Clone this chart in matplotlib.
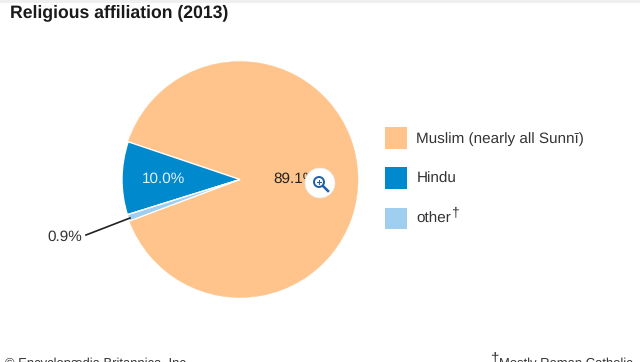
import matplotlib
matplotlib.use("Agg")
import matplotlib.pyplot as plt
from matplotlib.patches import Circle, Patch, Rectangle

plt.rcParams['font.family'] = ['Liberation Sans', 'DejaVu Sans']
plt.rcParams['text.hinting'] = 'no_hinting'

# religious affiliation, share in percent
groups = ["Muslim (nearly all Sunnī)", "Hindu", "other"]
shares = [89.1, 10.0, 0.9]
colors = ["#FEC48C", "#0089CC", "#A0CEEE"]
share_labels = ["89.1%", "10.0%", "0.9%"]

fig = plt.figure(figsize=(6.4, 3.62), dpi=100)
# whole figure as one axes, in pixels of the picture
ax = fig.add_axes([0, 0, 1, 1])

wedges, _ = ax.pie(shares, colors=colors, startangle=200.6, radius=118, center=(240, 182.5),
                   frame=True, wedgeprops={"edgecolor": "white", "linewidth": 1.0})
# muslim slice has no visible white rim against the page
wedges[0].set_edgecolor(colors[0])
wedges[0].set_linewidth(0.3)
for w in wedges[1:]:
    w.set_zorder(3)

ax.set_xlim(0, 640)
ax.set_ylim(0, 362)
ax.set_aspect("auto")
ax.axis("off")

def py(y):
    return 362 - y

# grey strip at the top of the page
ax.add_patch(Rectangle((0, py(3)), 640, 3, color="#EFEFEF", lw=0))

ax.text(10, py(13), "Religious affiliation (2013)", fontsize=12.7, weight="bold",
        color="#1A1A1A", va="center", ha="left")

ax.text(273, py(179), share_labels[0], fontsize=11, color="#222222", va="center", ha="left", zorder=4)
ax.text(163, py(179), share_labels[1], fontsize=11, color="#E4F2FA", va="center", ha="center", zorder=4)
ax.text(47, py(237), share_labels[2], fontsize=11, color="#333333", va="center", ha="left", zorder=4)
ax.plot([86, 130], [py(235), py(218)], color="#222222", lw=1.2, zorder=5)

# legend
handles = [Patch(facecolor=c, edgecolor="none") for c in colors]
leg = ax.legend(handles, groups, loc="upper left", bbox_to_anchor=(385 / 640, 1 - 127 / 362),
                frameon=False, fontsize=11, handlelength=1.45, handleheight=1.8,
                handletextpad=0.6, labelspacing=1.22, borderpad=0, borderaxespad=0,
                labelcolor="#333333")
ax.text(451, py(213), "†", fontsize=10, color="#333333", va="center", ha="left")

# zoom button sitting on top of the chart
ax.add_patch(Circle((320, py(183)), 15, facecolor="white", edgecolor="#E8E8E8", lw=0.5, zorder=6))
ax.add_patch(Circle((319, py(182)), 5, facecolor="none", edgecolor="#1F5FA8", lw=1.4, zorder=7))
ax.plot([323, 328], [py(186), py(191)], color="#1F5FA8", lw=1.8, zorder=7)
ax.plot([317, 321], [py(182), py(182)], color="#1F5FA8", lw=0.8, zorder=7)
ax.plot([319, 319], [py(180), py(184)], color="#1F5FA8", lw=0.8, zorder=7)

# footer, cut off by the bottom edge in the source
ax.text(5, py(358), "© Encyclopædia Britannica, Inc.", fontsize=9.4, color="#333333",
        va="top", ha="left", clip_on=True)
ax.text(491, py(352), "†", fontsize=11, color="#333333", va="top", ha="left", clip_on=True)
ax.text(499, py(358), "Mostly Roman Catholic.", fontsize=9.4, color="#333333", va="top", ha="left", clip_on=True)

fig.savefig("out.png", dpi=100)
